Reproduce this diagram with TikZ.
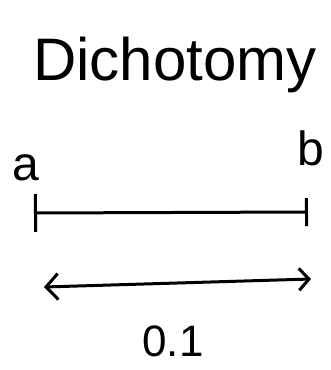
\documentclass[tikz,border=0pt]{standalone}
\usepackage{fontspec}
\setmainfont{Liberation Sans}
\usetikzlibrary{positioning, arrows.meta}

\begin{document}
\begin{tikzpicture}[
 x=1pt, y=-1pt,
 title/.style={font=\fontsize{60}{60}\selectfont, inner sep=0pt, anchor=base},
 endlabel/.style={font=\fontsize{48}{48}\selectfont, inner sep=0pt, anchor=base},
 lenlabel/.style={font=\fontsize{44}{44}\selectfont, inner sep=0pt, anchor=base},
 interval/.style={line width=3pt, line cap=round,
   {Bar[width=38pt,line width=3pt]}-{Bar[width=28pt,line width=3pt]}},
 span/.style={line width=3pt, line cap=round,
   {Straight Barb[length=12pt,width=26pt,line width=3pt]}-{Straight Barb[length=10pt,width=22pt,line width=3pt]}}
]
\useasboundingbox (0,0) rectangle (330,370);
\node[title] (head) at (175,80) {Dichotomy};
\node[endlabel] (a) at (26,180) {a};
\node[endlabel] (b) at (311,165) {b};
\coordinate (left) at (34,213);
\coordinate (right) at (308,212);
\coordinate (from) at (44,287);
\coordinate (to) at (311,279);
\draw[interval] (left) -- (right);
\draw[span] (from) -- (to);
\node[lenlabel] (len) at (173,356) {0.1};
\end{tikzpicture}
\end{document}
